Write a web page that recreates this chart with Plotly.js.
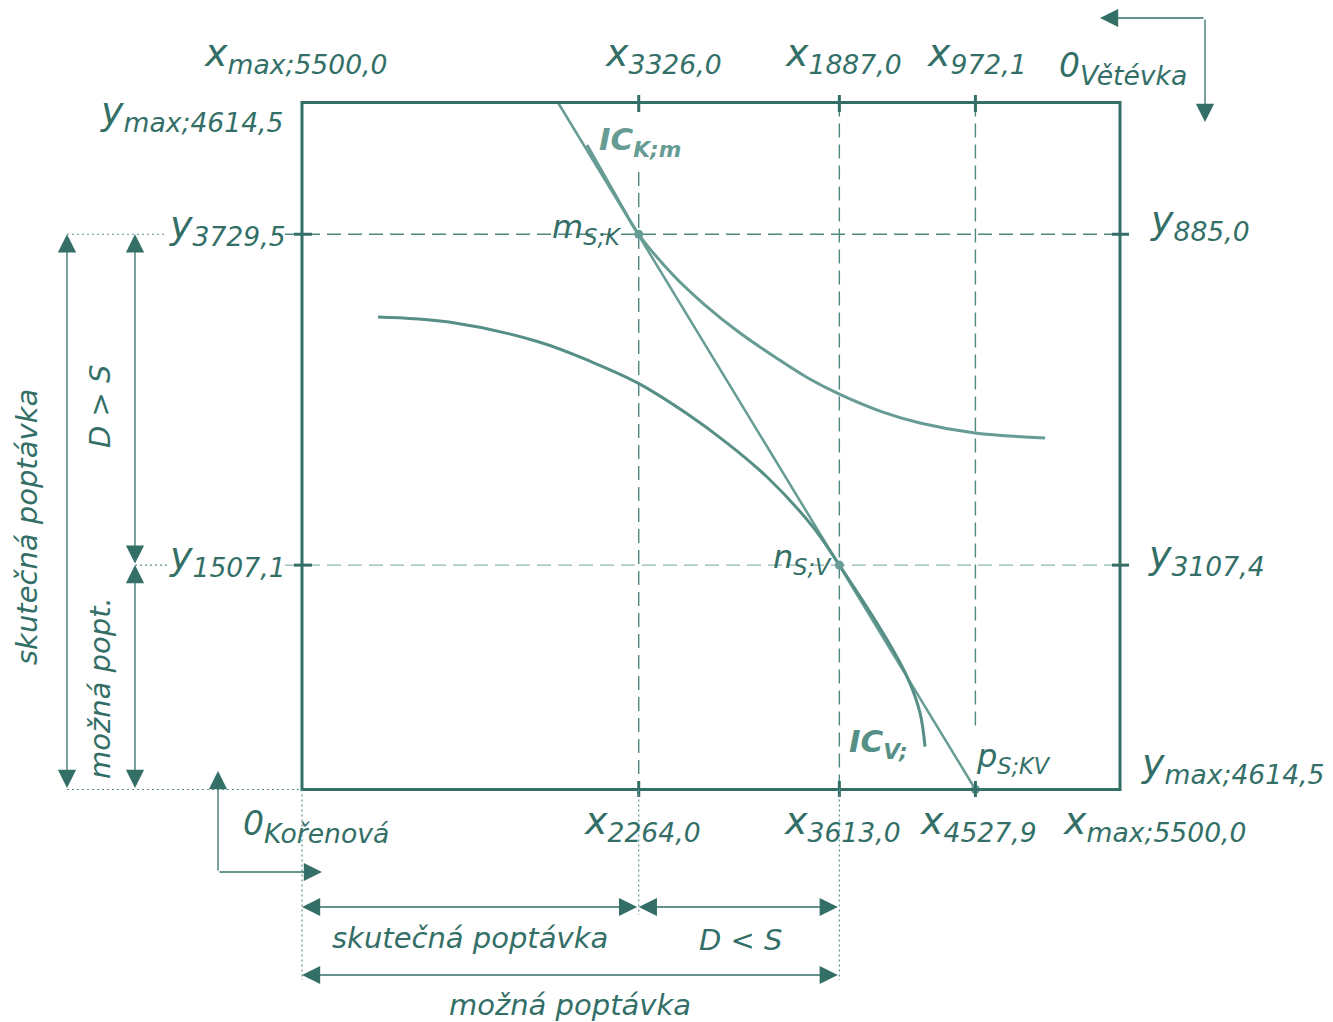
<!DOCTYPE html>
<html>
<head>
<meta charset="utf-8">
<script src="https://cdn.plot.ly/plotly-3.0.1.min.js"></script>
<style>html,body{margin:0;padding:0;background:#fff;}#chart{width:1333px;height:1022px;}</style>
</head>
<body>
<div id="chart"></div>
<script>
// ---------------- data ----------------
const xMax = 5500.0;
const yMax = 4614.5;
const xKor = [2264.0, 3613.0, 4527.9];      // Kořenová x values (bottom)
const yKor = [3729.5, 1507.1];              // Kořenová y values (left)
const xVet = [3326.0, 1887.0, 972.1];       // Větévka x values (top)
const yVet = [885.0, 3107.4];               // Větévka y values (right)
const pointNames = ['m', 'n', 'p'];
const pointSubs = ['S;K', 'S;V', 'S;KV'];
const pointX = [2264.0, 3613.0, 4527.9];
const pointY = [3729.5, 1507.1, 0.0];
const budgetX = [1721, 4527.9];
const budgetY = [4614.5, 0.0];
const icKX = [1916, 2004, 2138, 2264, 2495, 2710, 2945, 3180, 3402, 3624, 3886, 4155, 4525, 4996];
const icKY = [4329, 4175, 3940, 3729.5, 3456, 3254, 3066, 2905, 2764, 2650, 2542, 2462, 2395, 2361];
const icVX = [511, 988, 1594, 1950, 2259, 2582, 2858, 3127, 3436, 3613, 3933, 4068, 4155, 4189];
const icVY = [3174, 3140, 3006, 2871, 2730, 2529, 2327, 2099, 1763, 1507.1, 1007, 758, 517, 288];

// ---------------- layout helpers ----------------
const KX = 818 / xMax;          // px per unit
const KY = 0.14888;
const X = px => (px - 302) / KX;
const Y = py => (789.5 - py) / KY;
const fmt = v => v.toFixed(1).replace('.', ',');

const DARK = '#336f67';
const LIGHT = '#679c94';
const MID = '#568f86';
const FONT = 'DejaVu Sans, Verdana, sans-serif';

const traces = [
  {x: budgetX, y: budgetY, mode: 'lines', line: {color: LIGHT, width: 2.5}, hoverinfo: 'skip'},
  {x: icKX, y: icKY, mode: 'lines', line: {color: LIGHT, width: 3, shape: 'spline', smoothing: 1}, hoverinfo: 'skip'},
  {x: icVX, y: icVY, mode: 'lines', line: {color: MID, width: 3, shape: 'spline', smoothing: 1}, hoverinfo: 'skip'},
  {x: pointX, y: pointY, mode: 'markers', marker: {color: LIGHT, size: 9}, hoverinfo: 'skip', cliponaxis: false}
];

const shapes = [];
function seg(x0, y0, x1, y1, color, width, dash, layer) {
  shapes.push({type: 'line', xref: 'x', yref: 'y', x0, y0, x1, y1,
    line: {color, width, dash: dash || 'solid'}, layer: layer || 'above'});
}
// box
shapes.push({type: 'rect', xref: 'x', yref: 'y', x0: 0, y0: 0, x1: xMax, y1: yMax,
  line: {color: DARK, width: 3}, layer: 'above'});
// ticks
xKor.forEach(v => { seg(v, Y(112), v, Y(95), DARK, 3); seg(v, Y(797), v, Y(781), DARK, 3); });
yKor.forEach(v => { seg(X(294), v, X(312), v, DARK, 3); seg(X(1112), v, X(1129), v, DARK, 3); });
// dashed guides inside
const DASH = '14px,7px';
seg(xKor[0], Y(172), xKor[0], 0, '#4f887f', 1.4, DASH, 'below');
seg(xKor[1], yMax, xKor[1], 0, '#4f887f', 1.4, DASH, 'below');
seg(xKor[2], yMax, xKor[2], Y(732), '#4f887f', 1.4, DASH, 'below');
seg(X(285), yKor[0], xMax, yKor[0], '#4f887f', 1.4, DASH, 'below');
seg(X(285), yKor[1], xMax, yKor[1], '#8fb6b0', 1.4, DASH, 'below');
// dotted guides outside
const DOT = '2px,3px';
seg(xKor[0], 0, xKor[0], Y(915), '#5f948c', 1.2, DOT);
seg(xKor[1], 0, xKor[1], Y(980), '#5f948c', 1.2, DOT);
seg(0, 0, 0, Y(980), '#5f948c', 1.2, DOT);
seg(X(67), yKor[0], X(165), yKor[0], '#5f948c', 1.2, DOT);
seg(X(135), yKor[1], X(170), yKor[1], '#5f948c', 1.2, DOT);
seg(X(67), 0, 0, 0, '#5f948c', 1.2, DOT);

const ann = [];
function arrow(x, y, ax, ay, both) {
  ann.push({x, y, ax, ay, xref: 'x', yref: 'y', axref: 'x', ayref: 'y', text: '',
    showarrow: true, arrowhead: 2, startarrowhead: 2, arrowside: both ? 'end+start' : 'end',
    arrowsize: 2.8, startarrowsize: 2.8, arrowwidth: 1.3, arrowcolor: DARK, standoff: 0, startstandoff: 0});
}
// left measuring arrows
arrow(X(67), yKor[0], X(67), 0, true);
arrow(X(135), yKor[0], X(135), yKor[1], true);
arrow(X(135), yKor[1], X(135), 0, true);
// bottom measuring arrows
arrow(0, Y(907), xKor[0], Y(907), true);
arrow(xKor[0], Y(907), xKor[1], Y(907), true);
arrow(0, Y(975), xKor[1], Y(975), true);
// origin arrows
arrow(X(218), Y(771), X(218), Y(872), false);
arrow(X(322), Y(872), X(218), Y(872), false);
arrow(X(1100), Y(18), X(1205), Y(18), false);
arrow(X(1205), Y(122), X(1205), Y(18), false);

function lbl(main, sub, left, subBase, size, color, bold) {
  let t = '<i>' + main + '<sub>' + sub + '</sub></i>';
  if (bold) t = '<b>' + t + '</b>';
  ann.push({x: X(left), y: Y(subBase + 0.24 * size * 0.7 + 1), xref: 'x', yref: 'y',
    xanchor: 'left', yanchor: 'bottom', text: t, showarrow: false,
    font: {family: FONT, size: size, color: color || DARK}});
}
const ZERO = '<span style="font-size:33px">0</span>';
const S = 38;
// top
lbl('x', 'max;' + fmt(xMax), 202, 75, S);
lbl('x', fmt(xVet[0]), 603, 75, S);
lbl('x', fmt(xVet[1]), 783, 75, S);
lbl('x', fmt(xVet[2]), 925, 75, S);
lbl(ZERO, 'Větévka', 1057, 86, S);
// left
lbl('y', 'max;' + fmt(yMax), 98, 133, S);
lbl('y', fmt(yKor[0]), 167, 247, S);
lbl('y', fmt(yKor[1]), 167, 578, S);
// right
lbl('y', fmt(yVet[0]), 1148, 242, S);
lbl('y', fmt(yVet[1]), 1146, 577, S);
lbl('y', 'max;' + fmt(yMax), 1139, 785, S);
// bottom
lbl(ZERO, 'Kořenová', 241, 844, S);
lbl('x', fmt(xKor[0]), 582, 843, S);
lbl('x', fmt(xKor[1]), 782, 843, S);
lbl('x', fmt(xKor[2]), 918, 843, S);
lbl('x', 'max;' + fmt(xMax), 1061, 843, S);
// points
lbl(pointNames[0], pointSubs[0], 550, 246, 32);
lbl(pointNames[1], pointSubs[1], 771, 576, 32);
lbl(pointNames[2], pointSubs[2], 974, 775, 32);
// curves
lbl('IC', 'K;m', 597, 158, 31, LIGHT, true);
lbl('IC', 'V;', 847, 760, 31, MID, true);

function txt(t, cx, cy, angle) {
  ann.push({x: X(cx), y: Y(cy), xref: 'x', yref: 'y', xanchor: 'center', yanchor: 'middle',
    text: '<i>' + t + '</i>', textangle: angle || 0, showarrow: false,
    font: {family: FONT, size: 29, color: DARK}});
}
txt('skutečná poptávka', 27, 527, -90);
txt('D &gt; S', 100, 407, -90);
txt('možná popt.', 100, 688, -90);
txt('skutečná poptávka', 470, 938, 0);
txt('D &lt; S', 740, 940, 0);
txt('možná poptávka', 570, 1005, 0);

const layout = {
  width: 1333, height: 1022, autosize: false,
  margin: {l: 0, r: 0, t: 0, b: 0},
  paper_bgcolor: '#ffffff', plot_bgcolor: '#ffffff',
  showlegend: false,
  xaxis: {range: [X(0), X(1333)], visible: false, fixedrange: true},
  yaxis: {range: [Y(1022), Y(0)], visible: false, fixedrange: true},
  shapes: shapes,
  annotations: ann
};
Plotly.newPlot('chart', traces, layout, {staticPlot: true, displayModeBar: false});
</script>
</body>
</html>
